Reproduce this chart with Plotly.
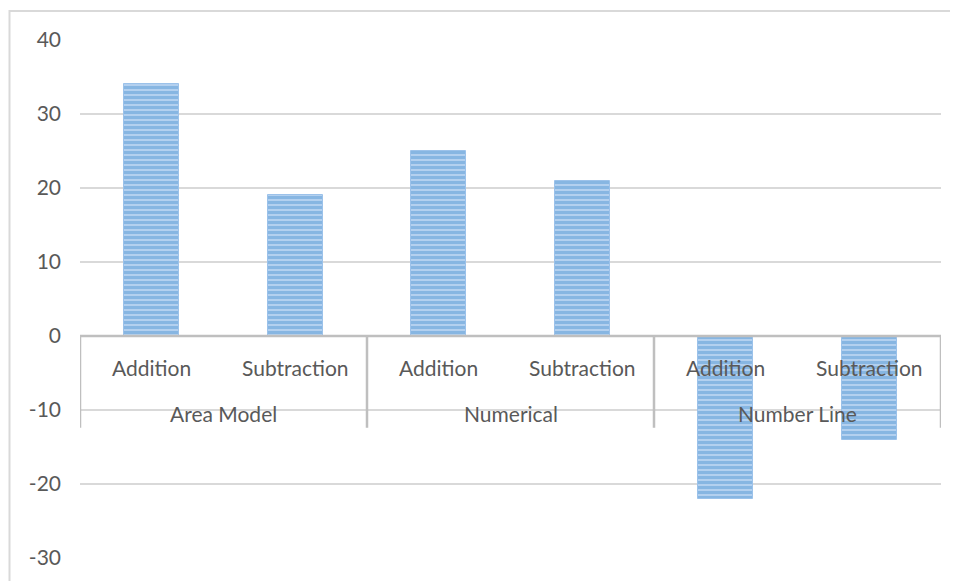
import plotly.graph_objects as go

groups = ["Area Model", "Numerical", "Number Line"]
methods = ["Addition", "Subtraction"]
values = [34, 19, 25, 21, -22, -14]
tick_values = [-30, -20, -10, 0, 10, 20, 30, 40]
tick_labels = ["-30", "-20", "-10", "0", "10", "20", "30", "40"]

OFF = 8  # page body margin
W, H = 958 - OFF, 581 - OFF
L, T = 80 - OFF, 40 - OFF
R = W - (941 - OFF)
B = H - (558 - OFF)
pw, ph = W - L - R, H - T - B

n = len(values)
xs = list(range(n))

fig = go.Figure()
fig.add_trace(go.Bar(
    x=xs, y=values, width=0.38,
    marker=dict(
        color="#a4c6ea",
        line=dict(color="#9cc2ea", width=1),
        pattern=dict(shape="-", size=5, solidity=0.6, fgcolor="#5b9bd5", bgcolor="#b3d0ef"),
    ),
    showlegend=False,
))

font = dict(family="Lato, Carlito, Liberation Sans, sans-serif", size=21, color="#595959")

annotations = []
shapes = []
for i in xs:
    annotations.append(dict(x=i, y=0, xref="x", yref="y", yshift=-31,
                            text=methods[i % len(methods)], showarrow=False, font=font))
for g, name in enumerate(groups):
    c = g * len(methods) + (len(methods) - 1) / 2
    annotations.append(dict(x=c, y=0, xref="x", yref="y", yshift=-77,
                            text=name, showarrow=False, font=font))
# category axis line and group separators
shapes.append(dict(type="line", xref="x", yref="y", x0=-0.5, x1=n - 0.5, y0=0, y1=0,
                   line=dict(color="#bfbfbf", width=2.5), layer="above"))
for g in range(len(groups) + 1):
    xb = g * len(methods) - 0.5
    shapes.append(dict(type="line", xref="x", yref="y", x0=xb, x1=xb, y0=0, y1=-12.4,
                       line=dict(color="#bfbfbf", width=2.5), layer="above"))
# outer chart frame
shapes.append(dict(type="rect", xref="paper", yref="paper",
                   x0=(9.5 - 80) / pw, x1=(W + 20 - L) / pw,
                   y0=-0.2, y1=(558 - 11) / ph,
                   line=dict(color="#d9d9d9", width=2), layer="below"))

fig.update_layout(
    width=W, height=H,
    margin=dict(l=L, r=R, t=T, b=B, pad=0),
    paper_bgcolor="white", plot_bgcolor="white",
    xaxis=dict(range=[-0.5, n - 0.5], showticklabels=False, showgrid=False,
               zeroline=False, showline=False, fixedrange=True),
    yaxis=dict(range=[-30, 40], tickvals=tick_values, ticktext=tick_labels,
               showgrid=True, gridcolor="#d9d9d9", gridwidth=1.5,
               zeroline=False, showline=False, tickfont=font, ticks="",
               ticklabelstandoff=18, fixedrange=True),
    annotations=annotations,
    shapes=shapes,
    bargap=0,
)

fig.write_html("out.html")
